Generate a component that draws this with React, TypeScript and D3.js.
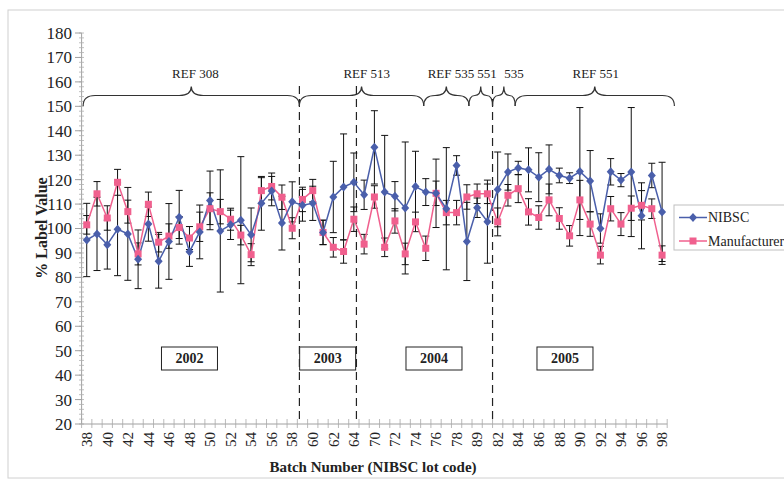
import React from "react";
import * as d3 from "d3";

const batches = [
  "38","39","40","41","42","43","44","45","46","47","48","49","50","51","52","53","54","55","56","57","58","59","60","61","62","63","64",
  "69","70","71","72","73","74","75","76","77","78","79","89","81",
  "82","83","84","85","86","87","88","89","90","91","92","93","94","95","96","97","98",
];

const nibsc = [
  95.3, 97.8, 93.4, 99.7, 97.8, 87.4, 101.8, 86.6, 94.7, 104.6, 90.5, 98.6, 111.5, 99.0, 101.5, 103.4, 97.4, 110.3, 115.3, 102.2, 110.9, 109.5,
  110.3, 98.4, 112.9, 117.0, 118.9, 113.8, 133.2, 114.9, 113.2, 108.4, 117.2, 114.9, 114.4, 108.1, 125.8, 94.7, 108.5, 102.8,
  116.0, 123.1, 124.8, 124.0, 121.0, 124.2, 121.7, 120.6, 123.3, 119.4, 100.0, 123.2, 119.8, 123.1, 105.2, 121.7, 106.8,
];
const nibscErr = [
  15, 15, 10, 19, 19, 12, 7, 11, 15.5, 11, 6, 11, 12, 25, 6, 26, 11, 11, 6, 11, 8.2, 6.5,
  7, 5, 14.6, 21.7, 12, 6, 15, 23.2, 6, 27, 14.4, 5.5, 14, 25, 4, 16, 4, 17,
  15.3, 7.4, 2.7, 9, 10, 10, 3, 2.2, 26.2, 12.5, 6, 5.4, 2.7, 26.4, 13.5, 5, 20.3,
];
const manufacturer = [
  101.5, 114.2, 104.3, 118.9, 106.9, 89.6, 109.9, 94.4, 96.9, 100.4, 96.1, 100.7, 108.1, 106.9, 103.8, 97.3, 89.3, 115.5, 117.2, 112.8, 100.1, 111.9,
  115.5, 98.4, 92.3, 90.6, 103.8, 93.6, 112.9, 92.3, 103.1, 89.6, 102.7, 91.9, 114.4, 106.5, 106.5, 112.9, 114.2, 114.2,
  102.7, 113.6, 116.3, 106.8, 104.5, 111.7, 104.1, 97.0, 111.7, 101.8, 89.1, 108.1, 101.8, 108.3, 109.5, 108.1, 89.1,
];
const manufacturerErr = [
  3.8, 5, 5, 5.3, 4.7, 4.5, 5, 4, 5, 4.5, 4.7, 6, 6.5, 5, 4.5, 4, 4.5, 5.3, 5.5, 5, 4.3, 5,
  4.6, 5, 4, 4.8, 5, 4, 4.6, 3.8, 5, 4.4, 4, 5, 5, 5, 5, 5, 4, 4,
  5.7, 4.4, 5.7, 5.4, 4.8, 6.5, 4.4, 4.2, 8, 5, 3.6, 5, 4.7, 5, 6, 4, 3.8,
];

const yTicks = [20, 30, 40, 50, 60, 70, 80, 90, 100, 110, 120, 130, 140, 150, 160, 170, 180];

// reference-change dividers (position in batch index units)
const dividers = [20.7, 26.25, 39.5];
// braces: label, start index, end index, label offset (index units)
const braceLabels = ["REF 308", "REF 513", "REF 535", "551", "535", "REF 551"];
const braceStart = [-0.35, 20.7, 32.8, 37.2, 39.5, 41.7];
const braceEnd = [20.7, 32.8, 37.2, 39.5, 41.7, 57.2];
const braceLabelShift = [0.4, 0.5, 0.45, 0.6, 1.0, 0.1];
// year boxes: label, centre index
const years = ["2002", "2003", "2004", "2005"];
const yearCentres = [10.0, 23.45, 33.8, 46.55];

const W = 784;
const H = 487;
const BLUE = "#4a5fab";
const PINK = "#f0608e";

export default function App() {
  const x = d3.scaleLinear().domain([-0.5, 56.5]).range([81.6, 667.2]);
  const y = d3.scaleLinear().domain([20, 180]).range([424, 33]);
  const idx = batches.map((_, i) => i);

  const lineB = d3.line<number>().x((i) => x(i)).y((i) => y(nibsc[i]));
  const lineP = d3.line<number>().x((i) => x(i)).y((i) => y(manufacturer[i]));

  const minorY = d3.range(20, 181, 2);
  const serif = "'Liberation Serif', 'Times New Roman', serif";

  const bracePath = (x1: number, x2: number) => {
    const yEnd = 106;
    const yLine = 95.5;
    const yPeak = 86.5;
    const xm = (x1 + x2) / 2;
    const r = Math.min(12, (x2 - x1) / 4);
    return `M${x1},${yEnd} Q${x1},${yLine} ${x1 + r},${yLine} L${xm - r},${yLine} Q${xm},${yLine} ${xm},${yPeak} Q${xm},${yLine} ${xm + r},${yLine} L${x2 - r},${yLine} Q${x2},${yLine} ${x2},${yEnd}`;
  };

  const errBar = (cx: number, v: number, e: number, key: string) => {
    const t = y(v + e);
    const b = y(v - e);
    return (
      <g key={key} stroke="#111" strokeWidth={1}>
        <line x1={cx} x2={cx} y1={t} y2={b} />
        <line x1={cx - 3.5} x2={cx + 3.5} y1={t} y2={t} />
        <line x1={cx - 3.5} x2={cx + 3.5} y1={b} y2={b} />
      </g>
    );
  };

  return (
    <svg
      width={W}
      height={H}
      style={{ position: "absolute", left: 0, top: 0, display: "block", background: "#fff" }}
      fontFamily={serif}
    >
      <rect x={8} y={10} width={800} height={468} fill="none" stroke="#d0d0d0" />

      {/* y axis */}
      <line x1={81.6} x2={81.6} y1={33} y2={424} stroke="#a0a0a0" />
      {minorY.map((v) => (
        <line key={"m" + v} x1={79} x2={84} y1={y(v)} y2={y(v)} stroke="#b0b0b0" strokeWidth={0.8} />
      ))}
      {yTicks.map((v) => (
        <g key={"y" + v}>
          <line x1={75} x2={81.6} y1={y(v)} y2={y(v)} stroke="#a0a0a0" />
          <text x={72} y={y(v)} dy="0.35em" textAnchor="end" fontSize={17} fill="#222">
            {v}
          </text>
        </g>
      ))}

      {/* x axis */}
      <line x1={81.6} x2={667.2} y1={424} y2={424} stroke="#a0a0a0" />
      {d3.range(0, 58).map((i) => (
        <line key={"xt" + i} x1={x(i - 0.5)} x2={x(i - 0.5)} y1={419} y2={428} stroke="#a8a8a8" strokeWidth={0.8} />
      ))}
      {idx.filter((i) => i % 2 === 0).map((i) => (
        <text
          key={"xl" + i}
          transform={`translate(${x(i)},432) rotate(-90)`}
          textAnchor="end"
          dy="0.35em"
          fontSize={15}
          fill="#222"
        >
          {batches[i]}
        </text>
      ))}

      {/* axis titles */}
      <text
        transform="translate(41,228) rotate(-90)"
        textAnchor="middle"
        dy="0.35em"
        fontSize={16}
        fontWeight="bold"
        fill="#222"
      >
        % Label Value
      </text>
      <text x={373} y={472} textAnchor="middle" fontSize={15} fontWeight="bold" fill="#222">
        Batch Number (NIBSC lot code)
      </text>

      {/* dividers */}
      {dividers.map((d, i) => (
        <line key={"dv" + i} x1={x(d)} x2={x(d)} y1={86} y2={424} stroke="#222" strokeWidth={1.2} strokeDasharray="8,5" />
      ))}

      {/* braces */}
      {braceLabels.map((lab, i) => {
        const x1 = x(braceStart[i]);
        const x2 = x(braceEnd[i]);
        return (
          <g key={"br" + i}>
            <path d={bracePath(x1, x2)} fill="none" stroke="#333" strokeWidth={1.2} />
            <text x={x((braceStart[i] + braceEnd[i]) / 2 + braceLabelShift[i])} y={78} textAnchor="middle" fontSize={13} fill="#222">
              {lab}
            </text>
          </g>
        );
      })}

      {/* year boxes */}
      {years.map((yr, i) => {
        const cx = x(yearCentres[i]);
        return (
          <g key={"yr" + yr}>
            <rect x={cx - 28} y={347} width={56} height={23} fill="#fff" stroke="#222" strokeWidth={1} />
            <text x={cx} y={358.5} dy="0.35em" textAnchor="middle" fontSize={14} fontWeight="bold" fill="#222">
              {yr}
            </text>
          </g>
        );
      })}

      {/* error bars */}
      {idx.map((i) => errBar(x(i), nibsc[i], nibscErr[i], "eb" + i))}
      {idx.map((i) => errBar(x(i), manufacturer[i], manufacturerErr[i], "ep" + i))}

      {/* series */}
      <path d={lineP(idx) || ""} fill="none" stroke={PINK} strokeWidth={1.5} />
      <path d={lineB(idx) || ""} fill="none" stroke={BLUE} strokeWidth={1.5} />
      {idx.map((i) => (
        <rect key={"pm" + i} x={x(i) - 3.5} y={y(manufacturer[i]) - 3.5} width={7} height={7} fill={PINK} />
      ))}
      {idx.map((i) => (
        <path
          key={"bm" + i}
          d={`M${x(i)},${y(nibsc[i]) - 4.5} L${x(i) + 4},${y(nibsc[i])} L${x(i)},${y(nibsc[i]) + 4.5} L${x(i) - 4},${y(nibsc[i])} Z`}
          fill={BLUE}
        />
      ))}

      {/* legend */}
      <rect x={674} y={205} width={130} height={45} fill="#fff" stroke="#c0c0c0" />
      <line x1={679} x2={707} y1={217.5} y2={217.5} stroke={BLUE} strokeWidth={1.5} />
      <path d="M693,213 L697,217.5 L693,222 L689,217.5 Z" fill={BLUE} />
      <text x={708} y={217.5} dy="0.35em" fontSize={14} fill="#222">
        NIBSC
      </text>
      <line x1={679} x2={707} y1={241} y2={241} stroke={PINK} strokeWidth={1.5} />
      <rect x={689.5} y={237.5} width={7} height={7} fill={PINK} />
      <text x={708} y={241} dy="0.35em" fontSize={14} fill="#222">
        Manufacturer
      </text>
    </svg>
  );
}
